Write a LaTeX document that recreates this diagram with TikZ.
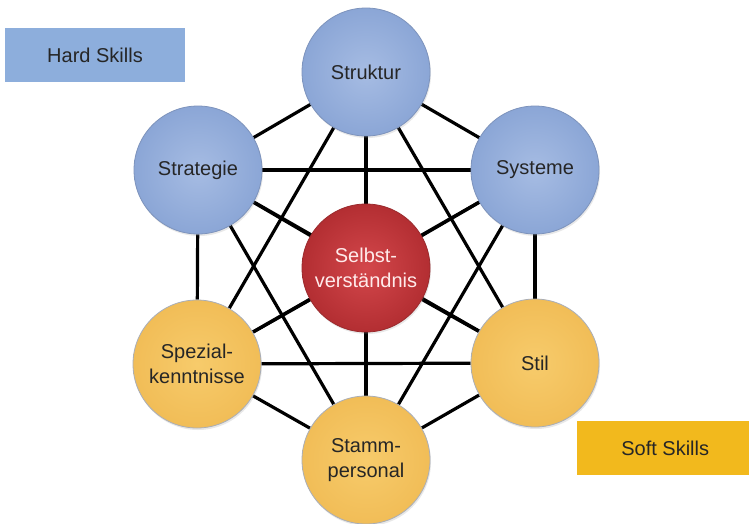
\documentclass[tikz,border=0pt]{standalone}
\usepackage{fontspec}
\setmainfont{Liberation Sans}
\usetikzlibrary{backgrounds,shadows}
\definecolor{bluein}{HTML}{A6BCE3}
\definecolor{blueout}{HTML}{8BA6D6}
\definecolor{blueline}{HTML}{7D93BC}
\definecolor{orin}{HTML}{F7CB6B}
\definecolor{orout}{HTML}{F1BD57}
\definecolor{orline}{HTML}{A9AEB8}
\definecolor{redin}{HTML}{D3474B}
\definecolor{redout}{HTML}{B32E32}
\definecolor{redline}{HTML}{9A2A2D}
\definecolor{hardbox}{HTML}{8DAEDC}
\definecolor{softbox}{HTML}{F2B91D}
\definecolor{txt}{HTML}{262626}
\tikzset{
  sbase/.style={circle, minimum size=128pt, inner sep=0pt, align=center,
    font=\fontsize{20}{25}\selectfont, text=txt, line width=0.8pt,
    drop shadow={opacity=0.18, shadow xshift=1pt, shadow yshift=-2pt}},
  hardc/.style={sbase, draw=blueline, inner color=bluein, outer color=blueout},
  softc/.style={sbase, draw=orline, inner color=orin, outer color=orout},
  corec/.style={sbase, draw=redline, inner color=redin, outer color=redout, text=white!92!red},
  link/.style={line width=3.2pt, black},
  legend/.style={inner sep=0pt, font=\fontsize{20}{25}\selectfont, text=txt}
}
\begin{document}
\begin{tikzpicture}[x=1pt,y=-1pt]
\useasboundingbox (0,0) rectangle (749,523);
\node[hardc] (struktur) at (366,72) {\raisebox{-2pt}{Struktur}};
\node[hardc] (strategie) at (198,170) {\raisebox{-2pt}{Strategie}};
\node[hardc] (systeme) at (535,170) {\raisebox{-2pt}{Systeme}};
\node[corec] (selbst) at (366,268) {Selbst-\\verständnis};
\node[softc] (spezial) at (197,364) {Spezial-\\kenntnisse};
\node[softc] (stil) at (535,363) {\raisebox{-2pt}{Stil}};
\node[softc] (stamm) at (366,460) {Stamm-\\personal};
\node[legend, fill=hardbox, minimum width=180pt, minimum height=54pt] (hard) at (95,55) {Hard Skills};
\node[legend, fill=softbox, minimum width=180pt, minimum height=54pt, anchor=west] (soft) at (577,448) {\hspace*{-4pt}Soft Skills};
\begin{pgfonlayer}{background}
\fill[white] (0,0) rectangle (749,523);
\foreach \a/\b in {struktur/strategie, struktur/systeme, struktur/selbst, struktur/spezial, struktur/stil, struktur/stamm,
  strategie/systeme, strategie/selbst, strategie/spezial, strategie/stil, strategie/stamm,
  systeme/selbst, systeme/spezial, systeme/stil, systeme/stamm,
  selbst/spezial, selbst/stil, selbst/stamm,
  spezial/stil, spezial/stamm, stil/stamm}
  \draw[link] (\a) -- (\b);
\end{pgfonlayer}
\end{tikzpicture}
\end{document}
